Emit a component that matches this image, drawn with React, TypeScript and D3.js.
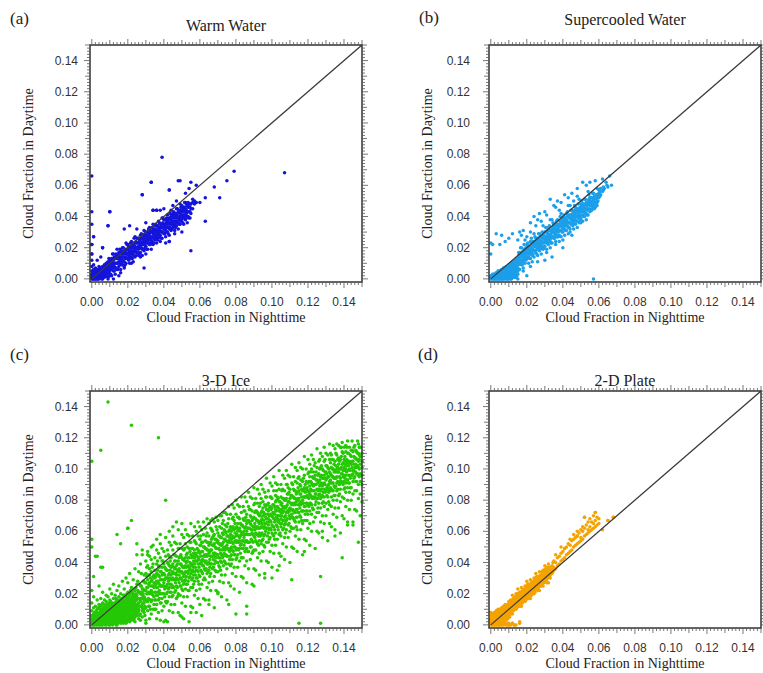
import React from 'react';
import * as d3 from 'd3';

type Col = [number, number[]];
type Pt = [number, number];

// All point values are in units of 0.001 (cloud fraction x 1000): [nighttime, [daytime values...]]
const warmCols: Col[] = [
  [0,[0,1,2,3,5,8,12,16,22,35,43,66]],[1,[0,1,2,3,4,6,9,27]],[2,[0,1,2,3,5,7]],[3,[0,1,2,3,4,6]],
  [4,[0,1,3,4,5,8]],[5,[1,2,4,5,7]],[6,[0,2,3,5,6,8,20]],[7,[1,3,4,6,7,9]],[8,[2,3,5,7,8,10]],
  [9,[1,4,6,7,9,11,34]],[10,[2,5,7,8,10,12,43]],[11,[2,6,8,10,13]],[12,[5,8,10,12,16]],[13,[3,7,10,14]],
  [14,[6,10,13,15,19]],[15,[8,11,14,17]],[16,[6,10,12,14,17]],[17,[9,12,14,16,20]],[18,[7,11,14,18,32]],
  [19,[10,14,17,19,23]],[20,[13,16,19,22]],[21,[10,14,16,18,21,34]],[22,[13,16,18,20,24]],[23,[11,15,18,22]],
  [24,[14,18,21,23,27]],[25,[17,20,23,26]],[26,[15,19,21,23,26]],[27,[17,20,22,24,28]],[28,[15,19,22,26,54]],
  [29,[7,18,22,25,27,31]],[30,[21,24,27,30]],[31,[19,23,25,27,30]],[32,[22,25,27,29,33]],[33,[19,23,26,30,62]],
  [34,[22,26,29,31,35,44]],[35,[25,28,31,34]],[36,[23,27,29,31,34,44]],[37,[26,29,31,33,37]],[38,[24,28,31,35]],
  [39,[26,30,33,35,39,78]],[40,[29,32,35,38]],[41,[27,31,33,35,38]],[42,[30,33,35,37,41]],[43,[24,28,32,35,39,57]],
  [44,[31,35,38,40,44]],[45,[33,36,39,42]],[46,[31,35,37,39,42]],[47,[34,37,39,41,45]],[48,[32,36,39,43,63]],
  [49,[35,39,42,44,48,63]],[50,[38,41,44,47]],[51,[35,39,41,43,46]],[52,[38,41,43,45,49]],[53,[36,40,43,47]],
  [54,[39,43,46,48]],[55,[18,42,45,48,62]],[56,[45,49,51]],[57,[48,50]],[58,[49,60]],
];
const warmFill: Col[] = [
  [0.5,[0,1,2,3,4]],[1.5,[0,1,2,3,5]],[2.5,[0,1,2,4,5]],[3.5,[0,1,3,4,6]],[4.5,[1,2,3,5,6]],[5.5,[0,2,4,5,7]],
  [6.5,[1,3,5,6,8]],[7.5,[2,4,5,7,9]],[8.5,[3,5,6,8,10]],[9.5,[4,7,10,13]],[10.5,[3,7,10,12]],[11.5,[7,10,13,16]],
  [12.5,[5,8,10,14]],[13.5,[7,10,13,16]],[14.5,[6,10,13,15]],[15.5,[10,13,16,19]],[16.5,[9,12,14,18]],
  [17.5,[11,14,17,20]],[18.5,[9,13,16,18]],[19.5,[13,16,19,22]],[20.5,[12,15,17,21]],[21.5,[14,17,20,23]],
  [22.5,[13,17,20,22]],[23.5,[17,20,23,26]],[24.5,[15,18,20,24]],[25.5,[17,20,23,26]],[26.5,[16,20,23,25]],
  [27.5,[20,23,26,29]],[28.5,[19,22,24,28]],[29.5,[20,23,26,29]],[30.5,[19,23,26,28]],[31.5,[23,26,29,32]],
  [32.5,[22,25,27,31]],[33.5,[24,27,30,33]],[34.5,[23,27,30,32]],[35.5,[26,29,32,35]],[36.5,[25,28,30,34]],
  [37.5,[27,30,33,36]],[38.5,[26,30,33,35]],[39.5,[30,33,36,39]],[40.5,[29,32,34,38]],[41.5,[30,33,36,39]],
  [42.5,[29,33,36,38]],[43.5,[33,36,39,42]],[44.5,[32,35,37,41]],[45.5,[34,37,40,43]],[46.5,[33,37,40,42]],
  [47.5,[36,39,42,45]],[48.5,[35,38,40,44]],[49.5,[37,40,43,46]],[50.5,[36,40,43,45]],[51.5,[40,43,46,49]],
  [52.5,[39,42,44,48]],[53.5,[40,43,46,49]],[54.5,[39,43,46,48]],
];
const warmExtra: Pt[] = [
  [107,68],[79,69],[75,63],[68,59],[71,52],[63,52],[63,37],[60,49],[33,62],[28,54],[43,57],[10,43],[9,34],
  [6,20],[0,16],[34,44],[36,44],[43,24],[1,27],[0,22],[3,12],[5,14],[12,0],[15,2],[9,0],[25,32],[30,36],
  [38,44],[40,45],[45,47],[47,50],[52,55],[54,58],[50,30],[46,29],[41,23],[30,16],[27,14],[22,10],[18,8],[16,4],
];

const superCols: Col[] = [
  [0,[0,1,2,16,23]],[1,[0,1,2,3,22]],[2,[0,1,2,3]],[3,[0,1,2,3,4]],[4,[0,1,2,3,4,5]],[5,[0,1,2,3,4,5]],
  [6,[0,1,2,3,5,6,28]],[7,[0,1,3,4,6,7]],[8,[1,2,3,5,6,7,24]],[9,[0,2,3,4,6,8]],[10,[1,2,4,5,7,9]],
  [11,[0,2,3,5,6,8,10]],[12,[1,3,4,6,8,9,11,29]],[13,[2,3,5,7,9,11]],[14,[1,4,6,8,10,12]],[15,[3,5,7,9,11,13,25]],
  [16,[6,10,12,14,17]],[17,[9,12,14,16,20,28]],[18,[7,11,14,18,31]],[19,[10,14,17,19,25]],[20,[13,17,19,22]],
  [21,[10,14,16,18,21]],[22,[13,16,18,20,24,30]],[23,[11,15,18,22]],[24,[14,18,21,23,29,40]],[25,[17,21,23,26,34]],
  [26,[15,19,21,23,26]],[27,[18,21,23,25,29,42]],[28,[16,20,23,27,37]],[29,[19,23,26,28,34]],[30,[12,21,25,27,30]],
  [31,[19,23,25,27,30,41]],[32,[22,25,27,29,33]],[33,[20,24,27,31,38,51]],[34,[14,23,27,30,32,38]],[35,[26,30,32,35]],
  [36,[24,28,30,32,35,46]],[37,[27,30,32,34,38]],[38,[24,28,31,35,44]],[39,[27,31,34,36,42]],[40,[20,30,34,36,39]],
  [41,[28,32,34,36,39,54]],[42,[31,34,36,38,42]],[43,[29,33,36,40,47]],[44,[32,36,39,41,47]],[45,[28,35,39,41,44]],
  [46,[32,36,38,40,43,50]],[47,[35,38,40,42,46]],[48,[33,37,40,44,53]],[49,[36,40,43,45,51]],[50,[38,39,43,45,48]],
  [51,[37,41,43,45,48,62]],[52,[40,43,45,47,51]],[53,[38,42,45,49]],[54,[41,45,48,50,56]],[55,[43,47,49,52,62]],
  [56,[45,47,49,52]],[57,[46,47,49,50,51,55]],[58,[46,49,53]],[59,[49,52,54,58]],[60,[52,55,57]],[61,[54,58]],
  [62,[56]],[63,[58]],[66,[66]],[67,[60]],
];
const superFill: Col[] = [
  [0.5,[0,1,2]],[1.5,[0,1,2,3]],[2.5,[0,1,2,3]],[3.5,[0,1,2,3,4]],[4.5,[0,1,2,3,4,5]],[5.5,[0,1,2,3,4,5]],
  [6.5,[0,1,2,4,5,6]],[7.5,[0,1,2,3,5,6,7]],[8.5,[0,1,3,4,6,7,8]],[9.5,[0,2,3,5,7,8]],[10.5,[1,2,4,6,7,9]],
  [11.5,[0,3,4,6,8,10]],[12.5,[1,2,5,7,9,11]],[13.5,[1,3,4,6,8,10,12]],[14.5,[2,4,5,7,9,11,13]],
  [15.5,[9,12,15,17]],[16.5,[11,14,17,20]],[17.5,[9,12,15,17]],[18.5,[13,16,19,22]],[19.5,[12,15,18,20]],
  [20.5,[14,17,20,23]],[21.5,[13,16,19,21]],[22.5,[17,20,23,26]],[23.5,[16,19,22,24]],[24.5,[18,21,24,27]],
  [25.5,[16,19,22,24]],[26.5,[20,23,26,29]],[27.5,[19,22,25,27]],[28.5,[21,24,27,30]],[29.5,[20,23,26,28]],
  [30.5,[24,27,30,33]],[31.5,[23,26,29,31]],[32.5,[25,28,31,34]],[33.5,[23,26,29,31]],[34.5,[27,30,33,36]],
  [35.5,[26,29,32,34]],[36.5,[28,31,34,37]],[37.5,[27,30,33,35]],[38.5,[31,34,37,40]],[39.5,[30,33,36,38]],
  [40.5,[32,35,38,41]],[41.5,[31,34,37,39]],[42.5,[34,37,40,43]],[43.5,[33,36,39,41]],[44.5,[35,38,41,44]],
  [45.5,[34,37,40,42]],[46.5,[38,41,44,47]],[47.5,[37,40,43,45]],[48.5,[39,42,45,48]],[49.5,[38,41,44,46]],
  [50.5,[41,44,47,50]],[51.5,[40,43,46,48]],[52.5,[42,45,48,51]],[53.5,[41,44,47,49]],[54.5,[45,48,51,54]],
  [55.5,[44,47,50,52]],[56.5,[46,49,52,55]],[57.5,[45,48,51,53]],[58.5,[48,51,54]],[59.5,[50,53]],
  [60.5,[53,56]],[62.5,[57,59]],[64.5,[60]],
];
const superExtra: Pt[] = [
  [57,0],[14,1],[3,29],[5,22],[10,26],[20,27],[16,30],[22,36],[26,38],[30,43],[35,47],[37,50],[39,49],[43,52],
  [45,55],[48,58],[53,60],[58,63],[62,64],[64,62],[65,59],[59,47],[56,44],[50,36],[44,30],[40,25],[36,22],
  [31,17],[26,11],[22,8],[18,5],[15,0],[20,2],[10,0],
];

const iceCols: Col[] = [
  [0,[0,1,3,4,6,9,14,22,50,105]],[1,[0,2,3,5,7,11,18,31]],[2,[1,2,4,6,8,12,44]],[3,[0,1,3,5,8,10,16]],
  [4,[0,2,4,5,7,11,13,25]],[5,[1,3,4,7,9,12,17,37,112]],[6,[0,2,5,6,8,10,14,21]],[7,[1,3,4,6,9,13,16]],
  [8,[0,2,5,7,8,11,15,19]],[9,[1,3,6,8,10,12,18,143]],[10,[0,2,4,7,9,13,16,23]],[11,[1,3,5,8,11,14,20]],
  [12,[2,4,6,7,10,12,17,26]],[13,[1,5,7,9,11,14,19]],[14,[0,3,6,8,10,13,16,22,58]],[15,[2,4,7,9,12,15,18,25]],
  [16,[1,5,8,10,11,14,20,52]],[17,[3,4,6,9,12,13,17,28]],[18,[2,5,7,10,11,15,19,23]],[19,[1,4,8,9,12,14,18,30]],
  [20,[3,6,7,10,13,16,21,27,62]],[21,[2,5,9,11,12,15,19,33]],[22,[4,6,8,11,14,17,24,67,128]],[23,[3,7,10,12,13,16,20,29]],
  [24,[2,5,9,12,15,18,22,36]],[25,[6,8,11,13,16,19,26,52]],[26,[4,9,10,14,17,21,34]],[27,[3,7,12,15,16,20,25,39]],
  [28,[5,9,11,13,17,19,23,45]],[29,[8,10,14,16,18,22,28,32]],
  [30,[3,11,16,22,27,33,41]],[31,[9,15,20,24,29,38,47]],[32,[4,12,20,27,32,36,44]],[33,[7,15,20,22,28,34,42]],
  [34,[10,19,25,31,39,51]],[35,[10,16,21,25,30,35,43]],[36,[4,13,19,24,28,33,39,48]],[37,[8,16,21,27,32,38,46]],
  [38,[3,14,20,25,29,34,43,52]],[39,[9,17,25,32,37,41,49]],[40,[12,20,25,27,33,39,47]],[41,[3,15,24,30,36,44,56]],
  [42,[2,15,21,26,30,35,40,48]],[43,[9,18,24,29,33,38,44,53]],[44,[13,21,26,32,37,43,51]],[45,[8,19,25,30,34,39,48,57]],
  [46,[13,21,29,36,41,45,53]],[47,[17,25,30,32,38,44,52]],[48,[8,20,29,35,41,49,61]],[49,[6,19,25,30,34,39,44,52]],
  [50,[14,23,29,34,38,43,49,58]],[51,[4,18,26,31,37,42,48,56]],[52,[12,23,29,34,38,43,52,61]],[53,[18,26,34,41,46,50,58]],
  [54,[2,22,30,35,37,43,49,57]],[55,[12,24,33,39,45,53,65]],[56,[11,24,30,35,39,44,49,57]],[57,[19,28,34,39,43,48,54,63]],
  [58,[8,22,30,35,41,46,52,60]],[59,[17,28,34,39,43,48,57,66]],[60,[23,31,39,46,51,55,63]],[61,[6,26,34,39,41,47,53,61]],
  [62,[17,29,38,44,50,58,66]],[63,[16,29,35,40,44,49,54,62]],[64,[24,33,39,44,48,53,59,68]],[65,[13,27,35,40,46,51,57,65]],
  [66,[22,33,39,44,48,53,62,67]],[67,[28,36,44,51,56,60,68]],[68,[11,31,39,44,46,52,58,66]],[69,[22,34,43,49,55,63,69]],
  [70,[21,34,40,45,49,54,59,67]],[71,[28,37,43,48,52,57,63,70]],[72,[18,32,40,45,51,56,62,70]],[73,[27,38,44,49,53,58,67,72]],
  [74,[32,40,48,55,60,64,72]],[75,[16,36,44,49,51,57,63,71]],[76,[27,39,48,54,60,68,76]],[77,[25,38,44,49,53,58,63,71]],
  [78,[33,42,48,53,57,62,68,77]],[79,[23,37,45,50,56,61,67,75]],[80,[31,42,48,53,57,62,71,80]],[81,[37,45,53,60,65,69,77]],
  [82,[21,41,49,54,56,62,68,76]],[83,[31,43,52,58,64,72,82]],[84,[30,43,49,54,58,63,68,76]],[85,[38,47,53,58,62,67,73,82]],
  [86,[27,41,49,54,60,65,71,79]],[87,[36,47,53,58,62,67,76,85]],[88,[42,50,58,65,70,74,82]],[89,[26,46,54,59,61,67,73,81]],
  [90,[36,48,57,63,69,77,88]],[91,[35,48,54,59,63,68,73,81]],[92,[43,52,58,63,67,72,78,87]],[93,[32,46,54,59,65,70,76,84]],
  [94,[41,52,58,63,67,72,81,90]],[95,[47,55,63,70,75,79,87]],[96,[30,50,58,63,65,71,77,85]],[97,[41,53,62,68,74,82,94]],
  [98,[40,53,59,64,68,73,78,86]],[99,[47,56,62,67,71,76,82,91]],[100,[37,51,59,64,70,75,81,89]],[101,[46,57,63,68,72,77,86,95]],
  [102,[51,59,67,74,79,83,91]],[103,[35,55,63,68,70,76,82,90]],[104,[46,58,67,73,79,87,99]],[105,[44,57,63,68,72,77,82,90]],
  [106,[52,61,67,72,76,81,87,96]],[107,[42,56,64,69,75,80,86,94]],[108,[50,61,67,72,76,81,90,99]],[109,[56,64,72,79,84,88,96]],
  [110,[40,60,68,73,75,81,87,95]],[111,[50,62,71,77,83,91,103]],[112,[49,62,68,73,77,82,87,95]],[113,[57,66,72,77,81,86,92,101]],
  [114,[47,61,69,74,80,85,91,99]],[115,[55,66,72,77,81,86,95,104]],[116,[61,69,77,84,89,93,101]],[117,[45,65,73,78,80,86,92,100]],
  [118,[55,67,76,82,88,96,108]],[119,[54,67,73,78,82,87,92,100]],[120,[62,71,77,82,86,91,97,106]],[121,[51,65,73,78,84,89,95,103]],
  [122,[60,71,77,82,86,91,100,109]],[123,[66,74,82,89,94,98,106]],[124,[49,69,77,82,84,90,96,104]],[125,[60,72,81,87,93,101,113]],
  [126,[59,72,78,83,87,92,97,105]],[127,[66,75,81,86,90,95,101,110]],[128,[56,70,78,83,89,94,100,108]],[129,[65,76,82,87,91,96,105,114]],
  [130,[70,78,86,93,98,102,110]],[131,[54,74,82,87,89,95,101,109]],[132,[65,77,86,92,98,106,116]],[133,[63,76,82,87,91,96,101,109]],
  [134,[71,80,86,91,95,100,106,115]],[135,[61,75,83,88,94,99,105,113]],[136,[69,80,86,91,95,100,109,116]],[137,[75,83,91,98,103,107,115]],
  [138,[59,79,87,92,94,100,106,114]],[139,[70,82,91,97,103,111,117]],[140,[68,81,87,92,96,101,106,114]],[141,[76,85,91,96,100,105,111,115]],
  [142,[66,80,88,93,99,104,110,118]],[143,[74,85,91,96,100,105,114]],[144,[80,88,96,103,108,112]],[145,[64,84,92,97,99,105,111]],
  [146,[74,86,95,101,107,115]],[147,[73,86,92,97,101,106,111]],[148,[81,90,96,101,105,110,116]],[149,[70,84,92,97,103,108,114]],
  [150,[79,90,96,101,105,110]],
];
const iceFill: Col[] = [
  [0.5,[0,1,2,4,6]],[1.5,[0,1,3,4,6,8]],[2.5,[0,2,3,5,7,9]],[3.5,[1,2,4,6,7,11]],[4.5,[0,1,3,5,6,8,10]],
  [5.5,[0,2,4,6,8,10,13]],[6.5,[1,3,4,7,9,11]],[7.5,[0,2,4,6,7,10,12]],[8.5,[1,3,5,6,9,10,13]],
  [9.5,[0,2,4,5,7,9,11,14]],[10.5,[1,3,6,8,10,12,15]],[11.5,[0,2,4,6,7,9,12,13]],[12.5,[1,3,5,8,9,11,14]],
  [13.5,[0,2,4,6,8,10,12,15,17]],[14.5,[1,4,5,7,9,11,12,14]],[15.5,[3,5,6,8,10,11,13,16]],[16.5,[2,4,7,9,10,12,15,17]],
  [17.5,[1,5,7,8,10,11,14,16,19]],[18.5,[3,4,6,9,12,13,16,18]],[19.5,[2,6,8,10,11,13,15,17,20]],[20.5,[4,5,8,9,12,14,17,18]],
  [21.5,[3,7,8,10,13,14,16,20,22]],[22.5,[5,6,9,11,12,15,18,21]],[23.5,[4,8,9,11,14,15,17,19,23]],[24.5,[6,7,10,12,13,16,18,20,24]],
  [25.5,[8,13,17,22,28]],[26.5,[6,12,17,21,26]],[27.5,[12,17,21,25,33]],[28.5,[9,14,20,23,28]],[29.5,[6,12,17,22,27]],
  [30.5,[15,20,24,31,37]],[31.5,[12,17,21,26,32]],[32.5,[10,16,21,25,30]],[33.5,[16,21,25,29,37]],[34.5,[13,18,24,27,32]],
  [35.5,[10,16,21,26,31]],[36.5,[19,24,28,35,41]],[37.5,[17,22,26,31,37]],[38.5,[14,20,25,29,34]],[39.5,[20,25,29,33,41]],
  [40.5,[18,23,29,32,37]],[41.5,[14,20,25,30,35]],[42.5,[23,28,32,39,45]],[43.5,[21,26,30,35,41]],[44.5,[18,24,29,33,38]],
  [45.5,[24,29,33,37,45]],[46.5,[22,27,33,36,41]],[47.5,[18,24,29,34,39]],[48.5,[27,32,36,43,49]],[49.5,[25,30,34,39,45]],
  [50.5,[22,28,33,37,42]],[51.5,[28,33,37,41,49]],[52.5,[26,31,37,40,45]],[53.5,[22,28,33,38,43]],[54.5,[31,36,40,47,53]],
  [55.5,[29,34,38,43,49]],[56.5,[26,32,37,41,46]],[57.5,[32,37,41,45,53]],[58.5,[30,35,41,44,49]],[59.5,[26,32,37,42,47]],
  [60.5,[35,40,44,51,57]],[61.5,[33,38,42,47,53]],[62.5,[30,36,41,45,50]],[63.5,[36,41,45,49,57]],[64.5,[34,39,45,48,53]],
  [65.5,[31,37,42,47,52]],[66.5,[39,44,48,55,61]],[67.5,[37,42,46,51,57]],[68.5,[35,41,46,50,55]],[69.5,[40,45,49,53,61]],
  [70.5,[38,43,49,52,57]],[71.5,[35,41,46,51,56]],[72.5,[43,48,52,59,65]],[73.5,[41,46,50,55,61]],[74.5,[39,45,50,54,59]],
  [75.5,[44,49,53,57,65]],[76.5,[42,47,53,56,61]],[77.5,[39,45,50,55,60]],[78.5,[47,52,56,63,69]],[79.5,[45,50,54,59,65]],
  [80.5,[43,49,54,58,63]],[81.5,[48,53,57,61,69]],[82.5,[46,51,57,60,65]],[83.5,[43,49,54,59,64]],[84.5,[51,56,60,67,73]],
  [85.5,[49,54,58,63,69]],[86.5,[47,53,58,62,67]],[87.5,[53,58,62,66,74]],[88.5,[50,55,61,64,69]],[89.5,[47,53,58,63,68]],
  [90.5,[56,61,65,72,78]],[91.5,[53,58,62,67,73]],[92.5,[51,57,62,66,71]],[93.5,[57,62,66,70,78]],[94.5,[54,59,65,68,73]],
  [95.5,[51,57,62,67,72]],[96.5,[60,65,69,76,82]],[97.5,[57,62,66,71,77]],[98.5,[55,61,66,70,75]],[99.5,[61,66,70,74,82]],
  [100.5,[58,63,69,72,77]],[101.5,[55,61,66,71,76]],[102.5,[64,69,73,80,86]],[103.5,[61,66,70,75,81]],[104.5,[59,65,70,74,79]],
  [105.5,[65,70,74,78,86]],[106.5,[62,67,73,76,81]],[107.5,[59,65,70,75,80]],[108.5,[68,73,77,84,90]],[109.5,[65,70,74,79,85]],
  [110.5,[63,69,74,78,83]],[111.5,[69,74,78,82,90]],[112.5,[67,72,78,81,86]],[113.5,[63,69,74,79,84]],[114.5,[72,77,81,88,94]],
  [115.5,[70,75,79,84,90]],[116.5,[67,73,78,82,87]],[117.5,[73,78,82,86,94]],[118.5,[71,76,82,85,90]],[119.5,[67,73,78,83,88]],
  [120.5,[76,81,85,92,98]],[121.5,[78,83,87,92,98]],[122.5,[75,81,86,90,95]],[123.5,[81,86,90,94,102]],[124.5,[79,84,90,93,98]],
  [125.5,[75,81,86,91,96]],[126.5,[84,89,93,100,106]],[127.5,[82,87,91,96,102]],[128.5,[79,85,90,94,99]],[129.5,[85,90,94,98,106]],
  [130.5,[83,88,94,97,102]],[131.5,[79,85,90,95,100]],[132.5,[88,93,97,104,110]],[133.5,[86,91,95,100,106]],[134.5,[83,89,94,98,103]],
  [135.5,[89,94,98,102,110]],[136.5,[87,92,98,101,106]],[137.5,[84,90,95,100,105]],[138.5,[92,97,101,108,114]],[139.5,[90,95,99,104,110]],
  [140.5,[88,94,99,103,108]],[141.5,[93,98,102,106,114]],[142.5,[91,96,102,105,110]],[143.5,[88,94,99,104,109]],[144.5,[96,101,105,112,118]],
  [145.5,[94,99,103,108,114]],[146.5,[92,98,103,107,112]],[147.5,[97,102,106,110,118]],[148.5,[95,100,106,109,114]],
];
const iceExtra: Pt[] = [
  [37,120],[41,80],[20,62],[3,44],[0,55],[6,37],[127,31],[139,43],[148,53],[145,66],[128,60],[111,29],[96,33],
  [86,7],[80,7],[76,13],[86,12],[115,1],[127,1],[30,1],[28,48],[33,50],[36,55],[43,60],[45,63],[47,66],[50,65],
  [38,58],[31,45],[25,45],[60,13],[90,25],[104,38],[118,47],[135,57],[142,64],[100,30],[70,20],[55,8],[65,16],[40,2],[50,5],
];

const plateCols: Col[] = [
  [0,[0,1,2,3,4,6,8]],[1,[0,1,2,3,5,7]],[2,[0,1,2,4,5,8]],[3,[0,1,2,3,5,6,9]],[4,[0,1,3,4,6,8,10]],
  [5,[0,2,3,5,6,7,10]],[6,[1,2,4,6,7,9,11]],[7,[0,3,5,6,8,10,12]],[8,[1,4,5,7,9,11,13]],[9,[0,5,6,8,9,10,12]],
  [10,[0,1,6,7,9,11,13,15]],[11,[0,7,9,11,12,14,16]],[12,[1,7,11,13,14,16,19]],[13,[0,10,12,13,15,17]],
  [14,[0,10,12,15,17,20]],[15,[13,15,16,18,20,23]],[16,[1,12,14,16,17,19,21]],[17,[12,16,18,19,21,24]],
  [18,[15,17,18,20,22]],[19,[15,17,20,22,25]],[20,[18,20,21,23,25,28]],[21,[17,19,21,22,24,26]],
  [22,[17,21,23,24,26,29]],[23,[20,22,23,25,27]],[24,[20,22,25,27,30]],[25,[23,25,26,28,30,33]],
  [26,[22,24,26,27,29,31]],[27,[22,26,28,29,31,34]],[28,[25,27,28,30,32]],[29,[25,27,30,32,35]],
  [30,[28,30,31,33,35,38]],[31,[27,29,31,32,34,36]],[32,[27,31,33,34,36,39]],[33,[30,32,33,35,37]],
  [34,[33,35,38]],[35,[35,37,41]],[36,[36,40]],[37,[38,43]],[38,[39,44]],[39,[41,46]],[40,[42,47]],
  [41,[43,49]],[42,[45,50]],[43,[46,52]],[44,[47,51]],[45,[48,54]],[46,[50,55,58]],[47,[51,56]],
  [48,[52,57,60]],[49,[53,59]],[50,[54,56,61]],[51,[55,60,63]],[52,[57,62,69]],[53,[58,64]],[54,[59,61,66]],
  [55,[60,63,68]],[56,[61,66]],[57,[62,65,70]],[58,[63,67,72]],[59,[64,69]],[60,[65,68]],[65,[67]],[68,[69]],
];
const plateFill: Col[] = [
  [0.5,[0,1,2,3,5]],[1.5,[0,1,2,4,6]],[2.5,[0,1,3,4,6,7]],[3.5,[0,2,3,4,6,8]],[4.5,[0,1,2,4,5,7,9]],
  [5.5,[0,1,3,4,6,8,9]],[6.5,[0,2,3,5,7,8,10]],[7.5,[1,2,4,6,7,9,11]],[8.5,[0,3,5,6,8,10,12]],[9.5,[1,4,6,7,9,11,13]],
  [10.5,[5,8,10,12,14]],[11.5,[8,10,12,13,15]],[12.5,[9,11,12,14,17]],[13.5,[10,12,14,16,18]],[14.5,[11,13,14,16,19]],
  [15.5,[12,14,16,17,20]],[16.5,[13,15,17,19,21]],[17.5,[14,16,18,20,22]],[18.5,[16,17,19,21,23]],[19.5,[16,18,20,22,24]],
  [20.5,[17,19,21,23,26]],[21.5,[19,20,22,24,26]],[22.5,[19,21,23,25,27]],[23.5,[21,23,24,26,28]],[24.5,[21,23,25,27,29]],
  [25.5,[23,24,26,28,31]],[26.5,[24,26,27,29,31]],[27.5,[25,27,29,30,32]],[28.5,[26,28,30,32,34]],[29.5,[27,29,31,33,35]],
  [30.5,[29,31,32,34,36]],[31.5,[30,32,33,35,37]],[32.5,[31,33,35,37]],[33.5,[33,36]],[34.5,[34,37,40]],
];
const plateExtra: Pt[] = [
  [16,2],[13,0],[10,0],[12,1],[62,61],[65,67],[68,69],[58,72],[52,69],[48,57],[41,49],[44,55],[36,45],[39,50],
];

const tickValues = [0, 0.02, 0.04, 0.06, 0.08, 0.1, 0.12, 0.14];
const tickLabels = ['0.00', '0.02', '0.04', '0.06', '0.08', '0.10', '0.12', '0.14'];

const panels = [
  { letter: '(a)', title: 'Warm Water', color: '#1414dc', cols: [...warmCols, ...warmFill], extra: warmExtra,
    left: 90, top: 45, labelGap: 12, titleY: 31, letterX: 10, letterY: 24 },
  { letter: '(b)', title: 'Supercooled Water', color: '#1c9fea', cols: [...superCols, ...superFill], extra: superExtra,
    left: 489, top: 45, labelGap: 19, titleY: 25, letterX: 419, letterY: 23 },
  { letter: '(c)', title: '3-D Ice', color: '#25c805', cols: [...iceCols, ...iceFill], extra: iceExtra,
    left: 90, top: 391, labelGap: 12, titleY: 386, letterX: 10, letterY: 360 },
  { letter: '(d)', title: '2-D Plate', color: '#f4a300', cols: [...plateCols, ...plateFill], extra: plateExtra,
    left: 489, top: 391, labelGap: 19, titleY: 386, letterX: 418, letterY: 360 },
];

const PW = 272;
const PH = 237;
const serif = '"Liberation Serif", "Times New Roman", serif';
const sans = '"Liberation Sans", Arial, sans-serif';

function Panel({ p }: { p: typeof panels[number] }) {
  const x = d3.scaleLinear().domain([-0.001, 0.15]).range([p.left, p.left + PW]);
  const y = d3.scaleLinear().domain([-0.002, 0.15]).range([p.top + PH, p.top]);
  const pts: Pt[] = [
    ...p.cols.flatMap(([cx, ys]) => ys.map((v) => [cx, v] as Pt)),
    ...p.extra,
  ];
  const minor = d3.range(0, 151, 2);
  const len = (k: number) => (k % 20 === 0 ? 6 : k % 10 === 0 ? 5 : 3);
  const bottom = p.top + PH;
  const right = p.left + PW;
  const cx = p.left + PW / 2;
  const cy = p.top + PH / 2;
  return (
    <g>
      <text x={p.letterX} y={p.letterY} fontFamily={serif} fontSize={17} fill="#222">{p.letter}</text>
      <text x={cx} y={p.titleY} textAnchor="middle" fontFamily={serif} fontSize={16} fill="#222">{p.title}</text>
      <g>
        {pts.map(([a, b], i) => (
          <circle key={i} cx={x(a / 1000)} cy={y(b / 1000)} r={1.75} fill={p.color} />
        ))}
      </g>
      <line x1={x(0)} y1={y(0)} x2={x(0.15)} y2={y(0.15)} stroke="#3a3a3a" strokeWidth={1.3} />
      <rect x={p.left} y={p.top} width={PW} height={PH} fill="none" stroke="#333" strokeWidth={1.5} />
      <g stroke="#555" strokeWidth={0.8}>
        {minor.map((k) => {
          const vx = x(k / 1000);
          const vy = y(k / 1000);
          const l = len(k);
          return (
            <g key={k}>
              <line x1={vx} x2={vx} y1={bottom} y2={bottom + l} />
              <line x1={vx} x2={vx} y1={p.top} y2={p.top - l} />
              <line x1={p.left} x2={p.left - l} y1={vy} y2={vy} />
              <line x1={right} x2={right + l} y1={vy} y2={vy} />
            </g>
          );
        })}
      </g>
      {tickValues.map((v, i) => (
        <text key={'x' + i} x={x(v)} y={bottom + 24} textAnchor="middle" fontFamily={sans} fontSize={12} fill="#333">
          {tickLabels[i]}
        </text>
      ))}
      {tickValues.map((v, i) => (
        <text key={'y' + i} x={p.left - p.labelGap} y={y(v) + 4} textAnchor="end" fontFamily={sans} fontSize={12} fill="#333">
          {tickLabels[i]}
        </text>
      ))}
      <text x={cx} y={bottom + 40} textAnchor="middle" fontFamily={serif} fontSize={14} fill="#222">
        Cloud Fraction in Nighttime
      </text>
      <text transform={`translate(${p.left - 57},${cy}) rotate(-90)`} textAnchor="middle" fontFamily={serif} fontSize={14} fill="#222">
        Cloud Fraction in Daytime
      </text>
    </g>
  );
}

export default function App() {
  return (
    <svg width={763} height={673} style={{ position: 'absolute', left: 0, top: 0, background: '#fff' }}>
      <rect width={763} height={673} fill="#fff" />
      {panels.map((p) => (
        <Panel key={p.letter} p={p} />
      ))}
    </svg>
  );
}
